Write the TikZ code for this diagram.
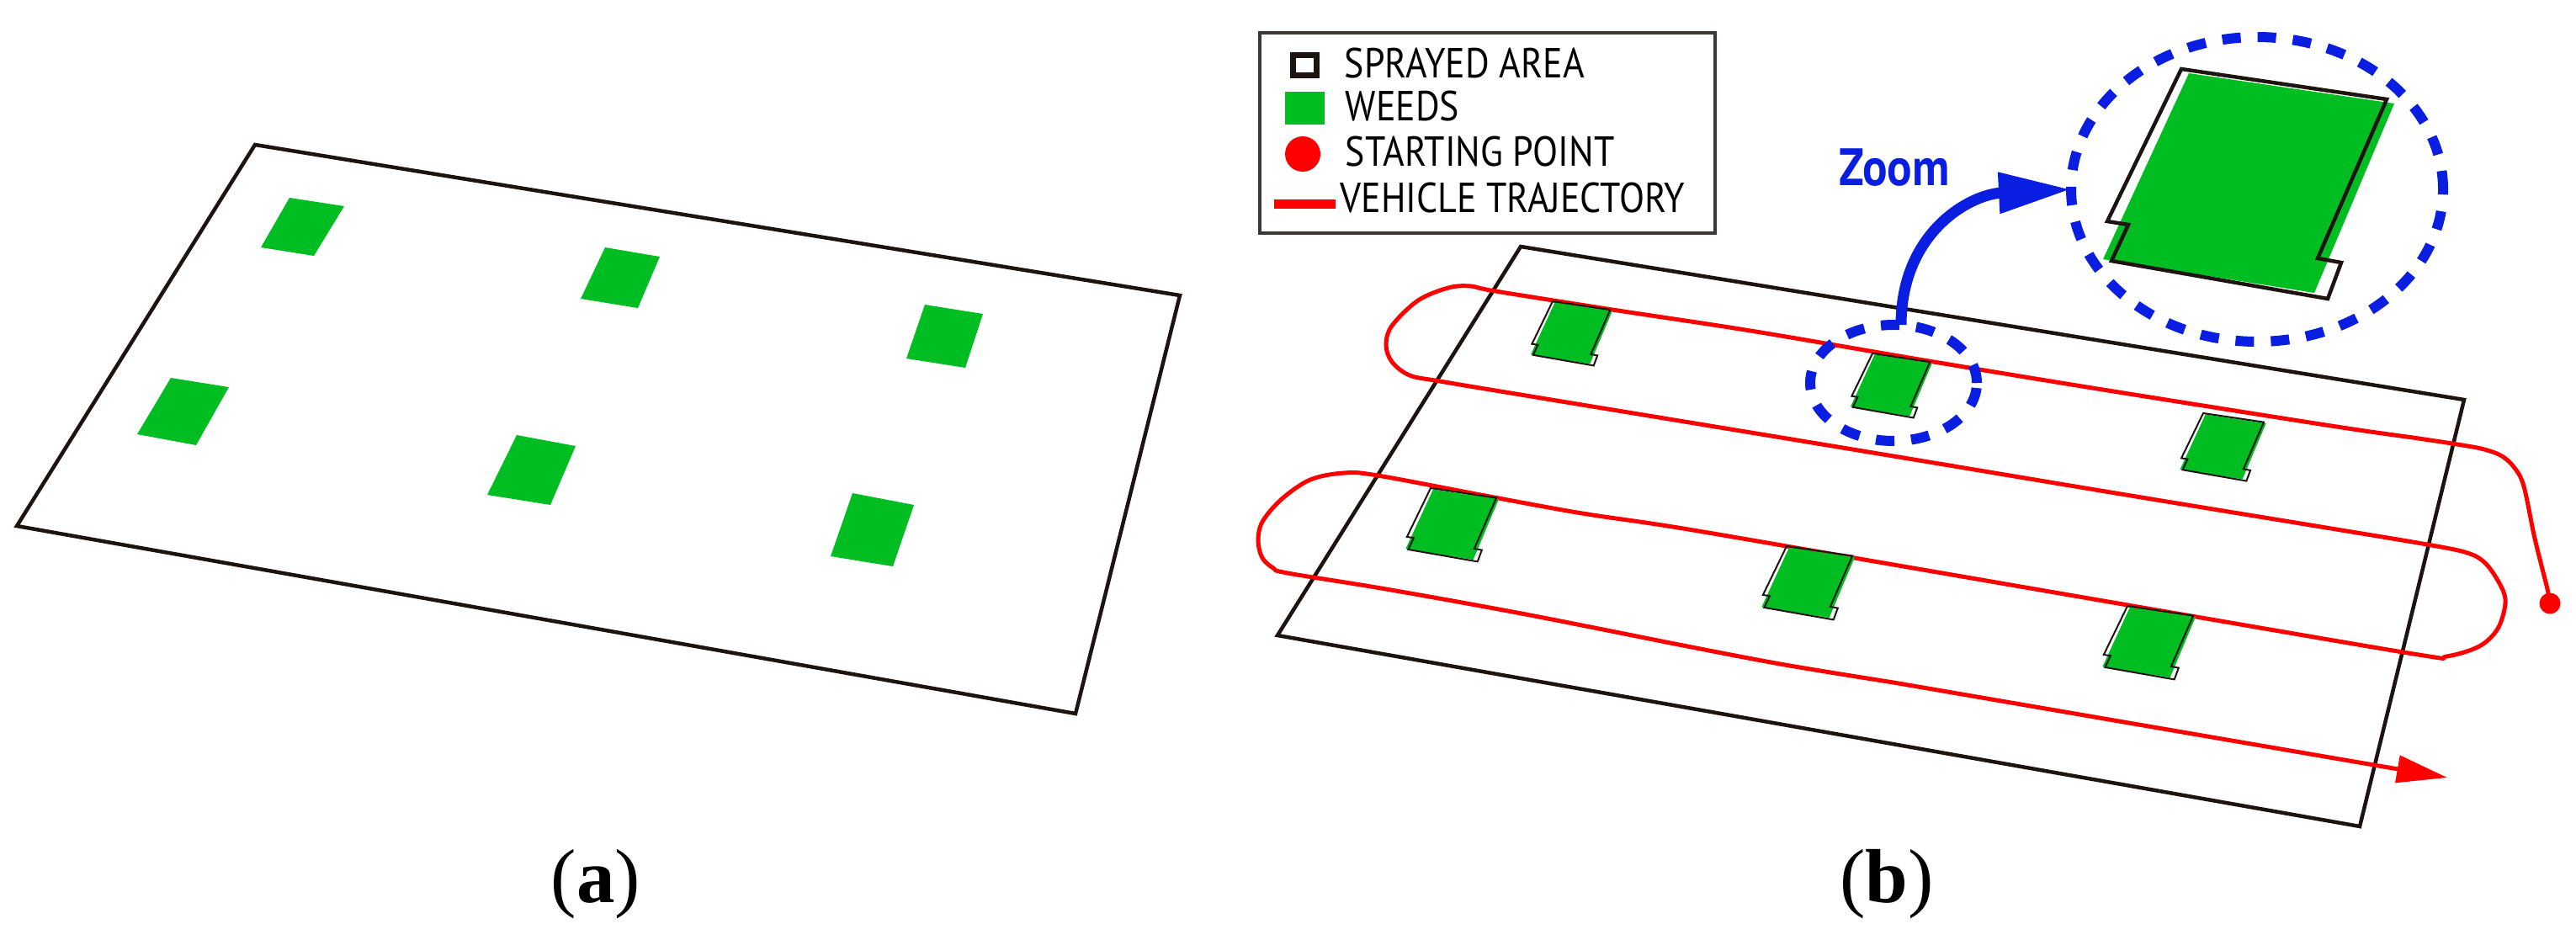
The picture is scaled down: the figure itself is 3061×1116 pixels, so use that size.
\documentclass[tikz,border=0pt]{standalone}
\usepackage{fontspec}
\setmainfont{Liberation Serif}
\newfontfamily\legendfont[FakeStretch=0.88]{PT Sans}
\usetikzlibrary{arrows.meta,shapes.geometric}
\definecolor{weedgreen}{RGB}{0,190,34}
\definecolor{zoomblue}{RGB}{10,30,225}
\definecolor{trajred}{RGB}{255,0,0}
\definecolor{fieldblack}{RGB}{30,20,15}
\definecolor{legendgray}{RGB}{60,55,50}
\tikzset{
  field/.style={draw=fieldblack, line width=0.45mm, line join=miter},
  weedfill/.style={fill=weedgreen},
  weedline/.style={line width=0.2mm},
  pics/weedpatch/.style={code={
    \fill[weedgreen] (9,5) -- (253,41) -- (158,266) -- (-93,226) -- cycle;
    \draw[fieldblack, weedline, line join=miter] (0,0) -- (244,36) -- (162,225) -- (190,230) -- (174,273) -- (-83,228) -- (-63,185) -- (-88,181) -- cycle;
  }},
  traj/.style={draw=trajred, line width=0.5mm, line join=round},
  startdot/.style={circle, fill=trajred, inner sep=0, minimum size=2.5mm},
  zoomring/.style={ellipse, draw=zoomblue, line width=1.2mm, dash pattern=on 2.2mm off 2mm, inner sep=0, outer sep=0},
  zoomarrow/.style={draw=zoomblue, line width=1.3mm, -{Triangle[length=8.6mm,width=4.6mm]}},
  zoomlabel/.style={text=zoomblue, font=\legendfont\bfseries\fontsize{17.8pt}{20pt}\selectfont, inner sep=0},
  legendtext/.style={font=\legendfont\fontsize{14.2pt}{16pt}\selectfont, inner sep=0, anchor=base west},
  panellabel/.style={font=\fontsize{25.9pt}{30pt}\selectfont, inner sep=0, anchor=base},
}
\begin{document}
\begin{tikzpicture}[x=0.1mm, y=-0.1mm]
\useasboundingbox (0,0) rectangle (3061,1116);

% ---------- panel (a) ----------
\draw[field] (303,172) -- (1402,351) -- (1278,848) -- (20,625) -- cycle;
\fill[weedfill] (344,235) -- (409,245) -- (373,304) -- (310,294) -- cycle;
\fill[weedfill] (719,294) -- (784,305) -- (758,366) -- (690,355) -- cycle;
\fill[weedfill] (1099,362) -- (1168,373) -- (1147,437) -- (1077,426) -- cycle;
\fill[weedfill] (203,449) -- (272,460) -- (233,529) -- (163,516) -- cycle;
\fill[weedfill] (614,517) -- (684,530) -- (654,600) -- (579,588) -- cycle;
\fill[weedfill] (1013,586) -- (1086,600) -- (1061,673) -- (987,661) -- cycle;
\node[panellabel] (labela) at (708,1072) {(\textbf{a})};

% ---------- panel (b) ----------
\draw[field] (1807,293) -- (2928,475) -- (2804,982) -- (1518,755) -- cycle;

\node[startdot] (startpt) at (3030,717) {};
\coordinate (trajend) at (2908,924);
\draw[traj, -{Triangle[length=6mm,width=3.2mm]}] plot[smooth, tension=0.55] coordinates {
  (startpt.center) (3027,700) (3012,640) (2999,578) (2988,556) (2973,542) (2952,534) (2926,529)
  (2874,521) (2770,506) (2480,460) (2280,427) (2080,393) (1916,368) (1777,346)
  (1747,340) (1721,342) (1685,357) (1654,387) (1647,410) (1654,430) (1675,446) (1711,453)
  (1813,470) (2044,508) (2280,547) (2520,587) (2770,628)
  (2884,647) (2932,657) (2954,670) (2972,697) (2977,717) (2968,747) (2946,768) (2907,780) (2874,778)
  (2604,732) (2250,671) (2000,628) (1880,610) (1770,590) (1637,565)
  (1597,562) (1557,570) (1523,593) (1500,620) (1495,643) (1500,663) (1513,675) (1530,681)
  (1647,700) (1813,730) (2000,767) (2121,790) (2250,811)} -- (trajend);

\pic[scale=0.28] at (1845,358) {weedpatch};
\pic[scale=0.28] at (2225,420) {weedpatch};
\pic[scale=0.295] at (2618,491) {weedpatch};
\pic[scale=0.32] at (1700,580) {weedpatch};
\pic[scale=0.32] at (2123,649) {weedpatch};
\pic[scale=0.32] at (2528,720) {weedpatch};

% zoom
\node[zoomring, minimum width=19.8mm, minimum height=13.8mm] (smallring) at (2250,455) {};
\pic[weedline/.style={line width=0.45mm}] at (2592,82) {weedpatch};
\node[zoomring, minimum width=44.2mm, minimum height=36.2mm] (bigring) at (2682,225) {};
\draw[zoomarrow] ([xshift=0.9mm]smallring.north) .. controls +(0,-110) and +(-120,6) .. (bigring.west);
\node[zoomlabel, anchor=base west] (zoomtxt) at (2185,220) {Zoom};

% legend
\node[draw=legendgray, line width=0.35mm, minimum width=54.1mm, minimum height=23.8mm, anchor=north west, inner sep=0] (legend) at (1495,37) {};
\draw[draw=fieldblack, line width=0.7mm] (1536.5,65.5) rectangle (1564.5,89.5);
\fill[weedgreen] (1527,109) rectangle (1574,148);
\fill[trajred] (1548,183) circle [radius=2.1mm];
\draw[trajred, line width=1.1mm] (1514,242.5) -- (1587,242.5);
\node[legendtext] (lsprayed) at (1597,92) {SPRAYED AREA};
\node[legendtext] (lweeds) at (1598,143) {WEEDS};
\node[legendtext] (lstart) at (1598,197) {STARTING POINT};
\node[legendtext] (ltraj) at (1592,252) {VEHICLE TRAJECTORY};

\node[panellabel] (labelb) at (2242,1072) {(\textbf{b})};
\end{tikzpicture}
\end{document}
